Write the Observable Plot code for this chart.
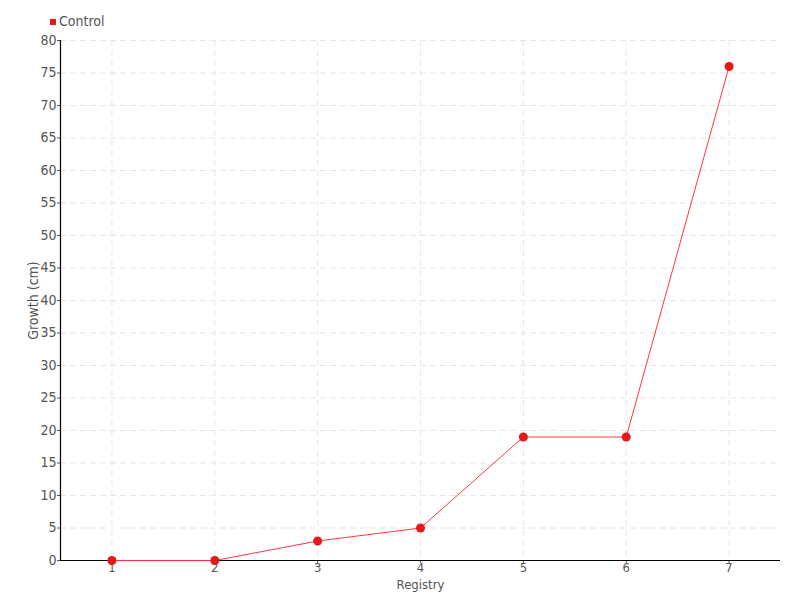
<!DOCTYPE html>
<html><head><meta charset="utf-8">
<script src="https://cdn.jsdelivr.net/npm/d3@7"></script>
<script src="https://cdn.jsdelivr.net/npm/@observablehq/plot@0.6"></script>
<style>
body{margin:0;background:#fff;font-family:"DejaVu Sans Condensed","DejaVu Sans",sans-serif;}
#legend{height:30px;position:relative;font-size:14px;color:#555;}
#legend .sw{position:absolute;left:50px;top:19px;width:6px;height:6px;background:#e31a1c;}
#legend .lb{position:absolute;left:59px;top:13px;}
</style></head><body>
<div id="legend"><span class="sw"></span><span class="lb">Control</span></div>
<div id="chart"></div>
<script>
const registry = [1,2,3,4,5,6,7];
const growth = [0,0,3,5,19,19,76];
const yTicks = d3.range(0,81,5);
const seriesName = "Control";
const data = registry.map((r,i)=>({registry:r, growth:growth[i], series:seriesName}));
const font = '"DejaVu Sans Condensed","DejaVu Sans",sans-serif';
const chart = Plot.plot({
  width:800, height:570,
  marginTop:10, marginBottom:40, marginLeft:60, marginRight:20,
  style:{fontFamily:font, fontSize:"14px", color:"#555", background:"#fff"},
  x:{domain:[0.5,7.5]},
  y:{domain:[0,80]},
  marks:[
    Plot.ruleY(yTicks.filter(d=>d>0), {stroke:"#e6e6e6", strokeDasharray:"6,4", strokeWidth:1}),
    Plot.ruleX(registry, {stroke:"#e6e6e6", strokeDasharray:"6,4", strokeWidth:1}),
    Plot.axisY({ticks:yTicks, tickSize:3, tickPadding:1, stroke:"#555", fill:"#555", label:"Growth (cm)", labelAnchor:"center", labelArrow:"none", labelOffset:32}),
    Plot.axisX({ticks:registry, tickFormat:"d", tickSize:3, tickPadding:-1, stroke:"#555", fill:"#555", fontSize:13, label:"Registry", labelAnchor:"center", labelArrow:"none", labelOffset:28}),
    Plot.ruleX([0.5], {stroke:"#000", strokeWidth:1.2}),
    Plot.ruleY([0], {stroke:"#000", strokeWidth:1.2}),
    Plot.line(data, {x:"registry", y:"growth", stroke:"#ff3344", strokeWidth:1}),
    Plot.dot(data, {x:"registry", y:"growth", fill:"#e31a1c", r:4.5})
  ]
});
document.getElementById("chart").appendChild(chart);
</script></body></html>
